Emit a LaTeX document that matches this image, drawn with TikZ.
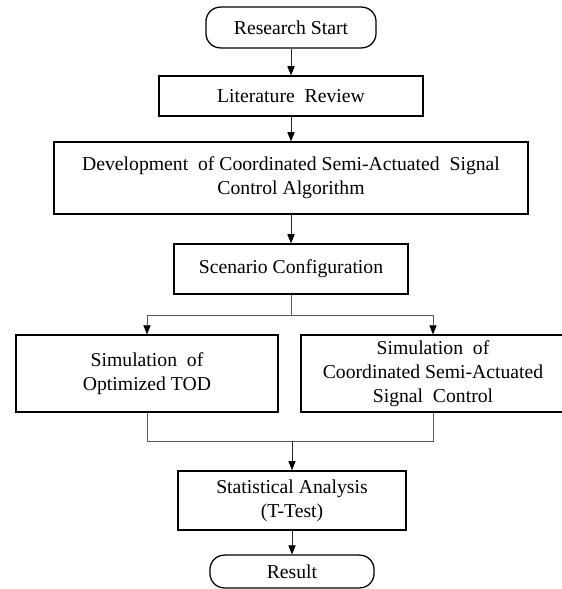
\documentclass[tikz,border=0pt]{standalone}
\usepackage{fontspec}
\setmainfont{Liberation Serif}
\usetikzlibrary{arrows.meta, positioning, calc}
\tikzset{
	box/.style={rectangle, draw, line width=0.9pt, align=center, inner sep=2pt, font=\fontsize{14}{17}\selectfont},
	terminal/.style={box, rounded corners=3.6mm},
	line/.style={draw=black!65, line width=0.6pt},
	arrow/.style={line, draw=black!85, -{Triangle[length=2.3mm, width=1.8mm, fill=black, color=black]}}
}

\begin{document}
\begin{tikzpicture}[x=0.025cm, y=-0.025cm]
	\useasboundingbox (0,0) rectangle (561,589);
	
	% Main column
	\node[terminal, minimum width=4.25cm, minimum height=1.02cm] (research_start) at (291,27.5) {Research Start};
	\node[box, minimum width=6.6cm, minimum height=1cm] (literature_review) at (291,96) {Literature\ \ Review};
	\node[box, minimum width=11.85cm, minimum height=1.8cm] (development) at (291,178) {Development\ \ of Coordinated Semi-Actuated\ \ Signal\\Control Algorithm};
	\node[box, minimum width=5.85cm, minimum height=1.25cm] (scenario) at (291,269) {Scenario Configuration};
	
	% Two simulations
	\node[box, minimum width=6.55cm, minimum height=1.92cm] (sim_tod) at (147,373.5) {Simulation\ \ of\\Optimized TOD};
	\node[box, minimum width=6.6cm, minimum height=1.92cm] (sim_coordinated) at (433,373.5) {Simulation\ \ of\\Coordinated Semi-Actuated\\Signal\ \ Control};
	
	\node[box, minimum width=5.7cm, minimum height=1.48cm] (statistical) at (292,500.5) {Statistical Analysis\\(T-Test)};
	\node[terminal, minimum width=4.1cm, minimum height=0.82cm] (result) at (292,571.5) {Result};
	
	% branch and merge points
	\coordinate (branch) at (291,315);
	\coordinate (merge) at (292,441);
	
	% connectors
	\draw[arrow] (research_start) -- (literature_review);
	\draw[arrow] (literature_review) -- (development);
	\draw[arrow] (development) -- (scenario);
	\draw[line] (scenario) -- (branch);
	\draw[arrow, draw=black!65] (branch) -| (sim_tod);
	\draw[arrow, draw=black!65] (branch) -| (sim_coordinated);
	\draw[line] (sim_tod) |- (merge);
	\draw[line] (sim_coordinated) |- (merge);
	\draw[arrow] (merge) -- (statistical);
	\draw[arrow] (statistical) -- (result);
	
\end{tikzpicture}
\end{document}
